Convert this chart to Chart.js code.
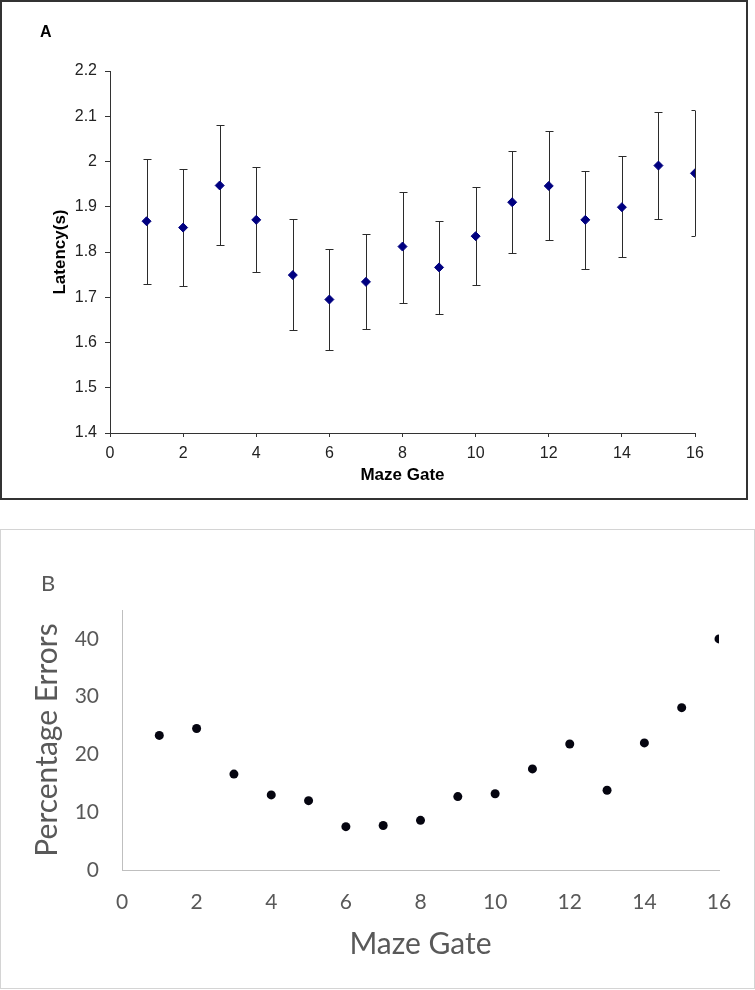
<!DOCTYPE html>
<html>
<head>
<meta charset="utf-8">
<script src="https://cdn.jsdelivr.net/npm/chart.js@4.4.0/dist/chart.umd.min.js"></script>
<style>
    body { margin: 0; background: #ffffff; }
    #panelA { position: absolute; left: 0; top: 0; width: 748px; height: 500px; border: 2px solid #333333; box-sizing: border-box; }
    #panelB { position: absolute; left: 0; top: 529px; width: 755px; height: 460px; border: 1px solid #d4d4d4; box-sizing: border-box; }
    #canvasA { position: absolute; left: 0; top: 0; }
    #canvasB { position: absolute; left: 0; top: 529px; }
    #labelA { position: absolute; left: 40px; top: 23px; font: bold 16px "Liberation Sans", Arial, sans-serif; color: #000; }
    #labelB { position: absolute; left: 41px; top: 569px; font: 22px Lato, sans-serif; color: #595959; }
</style>
</head>
<body>
<div id="panelA"></div>
<div id="panelB"></div>
<canvas id="canvasA" width="755" height="500"></canvas>
<canvas id="canvasB" width="755" height="461"></canvas>
<div id="labelA">A</div>
<div id="labelB">B</div>

<script>
// maze gates (same for both panels)
var gates = [1, 2, 3, 4, 5, 6, 7, 8, 9, 10, 11, 12, 13, 14, 15, 16];

// panel A: latency mean and error bar ends
var latencyMean  = [1.868, 1.854, 1.947, 1.871, 1.749, 1.695, 1.734, 1.812, 1.766, 1.835, 1.910, 1.946, 1.871, 1.899, 1.991, 1.974];
var latencyUpper = [2.006, 1.984, 2.081, 1.987, 1.873, 1.807, 1.839, 1.933, 1.869, 1.944, 2.023, 2.068, 1.980, 2.013, 2.110, 2.113];
var latencyLower = [1.730, 1.724, 1.815, 1.756, 1.628, 1.583, 1.630, 1.687, 1.664, 1.726, 1.798, 1.827, 1.762, 1.789, 1.873, 1.835];

// panel B: percentage errors
var percentErrors = [23.3, 24.5, 16.6, 13.0, 12.0, 7.5, 7.7, 8.6, 12.7, 13.2, 17.5, 21.8, 13.8, 22.0, 28.1, 40.0];

var pointsA = gates.map((g, i) => ({ x: g, y: latencyMean[i] }));
var pointsB = gates.map((g, i) => ({ x: g, y: percentErrors[i] }));

// draws the vertical error bars with caps, using the chart scales
var errorBarPlugin = {
    id: 'errorBars',
    beforeDatasetsDraw(chart) {
        var ctx = chart.ctx;
        var xs = chart.scales.x;
        var ys = chart.scales.y;
        var area = chart.chartArea;
        ctx.save();
        ctx.strokeStyle = '#2b2b2b';
        ctx.lineWidth = 1;
        for (var i = 0; i < gates.length; i++) {
            var x = Math.round(xs.getPixelForValue(gates[i])) + 0.5;
            var top = Math.round(ys.getPixelForValue(latencyUpper[i])) + 0.5;
            var bot = Math.round(ys.getPixelForValue(latencyLower[i])) + 0.5;
            var capL = x - 4;
            var capR = Math.min(x + 4, area.right);
            ctx.beginPath();
            ctx.moveTo(x, top);
            ctx.lineTo(x, bot);
            ctx.moveTo(capL, top);
            ctx.lineTo(capR, top);
            ctx.moveTo(capL, bot);
            ctx.lineTo(capR, bot);
            ctx.stroke();
        }
        ctx.restore();
    }
};

var fontA = '"Liberation Sans", Arial, sans-serif';
var fontB = 'Lato, sans-serif';

new Chart(document.getElementById('canvasA'), {
    type: 'scatter',
    data: {
        datasets: [{
            data: pointsA,
            pointStyle: 'rectRot',
            pointRadius: 4.5,
            pointBorderWidth: 1,
            backgroundColor: '#000080',
            borderColor: '#000080'
        }]
    },
    options: {
        responsive: false,
        animation: false,
        layout: { padding: { top: 71, right: 60, left: 0, bottom: 0 } },
        plugins: { legend: { display: false }, tooltip: { enabled: false } },
        scales: {
            x: {
                type: 'linear',
                min: 0,
                max: 16,
                afterFit: s => { s.height = 67; },
                border: { color: '#333333', width: 1 },
                grid: { drawOnChartArea: false, drawTicks: true, tickLength: 4, color: '#333333' },
                ticks: { stepSize: 2, padding: 7, color: '#222222', font: { family: fontA, size: 16 } },
                title: { display: true, text: 'Maze Gate', color: '#000000', font: { family: fontA, size: 17, weight: 'bold' }, padding: { top: 0, bottom: 14 } }
            },
            y: {
                min: 1.4,
                max: 2.2,
                afterFit: s => { s.width = 110; },
                border: { color: '#333333', width: 1 },
                grid: { drawOnChartArea: false, drawTicks: true, tickLength: 5, color: '#333333' },
                ticks: {
                    stepSize: 0.1,
                    padding: 8,
                    color: '#222222',
                    font: { family: fontA, size: 16 },
                    callback: v => String(Math.round(v * 10) / 10)
                },
                title: { display: true, text: 'Latency(s)', color: '#000000', font: { family: fontA, size: 17, weight: 'bold' }, padding: { top: 50, bottom: 0 } }
            }
        }
    },
    plugins: [errorBarPlugin]
});

new Chart(document.getElementById('canvasB'), {
    type: 'scatter',
    data: {
        datasets: [{
            data: pointsB,
            pointStyle: 'circle',
            pointRadius: 4.5,
            pointBorderWidth: 0,
            backgroundColor: '#050510',
            borderColor: '#050510'
        }]
    },
    options: {
        responsive: false,
        animation: false,
        layout: { padding: { top: 81, right: 36, left: 0, bottom: 0 } },
        plugins: { legend: { display: false }, tooltip: { enabled: false } },
        scales: {
            x: {
                type: 'linear',
                min: 0,
                max: 16,
                afterFit: s => { s.height = 120; },
                border: { color: '#bfbfbf', width: 1 },
                grid: { drawOnChartArea: false, drawTicks: false },
                ticks: { stepSize: 2, padding: 20, color: '#595959', font: { family: fontB, size: 21 } },
                title: { display: true, text: 'Maze Gate', color: '#595959', font: { family: fontB, size: 30 }, padding: { top: 0, bottom: 28 } }
            },
            y: {
                min: 0,
                max: 45,
                afterFit: s => { s.width = 122; },
                afterBuildTicks: s => { s.ticks = s.ticks.filter(t => t.value % 10 === 0); },
                border: { color: '#bfbfbf', width: 1 },
                grid: { drawOnChartArea: false, drawTicks: false },
                ticks: { stepSize: 10, padding: 23, color: '#595959', font: { family: fontB, size: 21 } },
                title: { display: true, text: 'Percentage Errors', color: '#595959', font: { family: fontB, size: 30 }, padding: { top: 29, bottom: 0 } }
            }
        }
    }
});
</script>
</body>
</html>
